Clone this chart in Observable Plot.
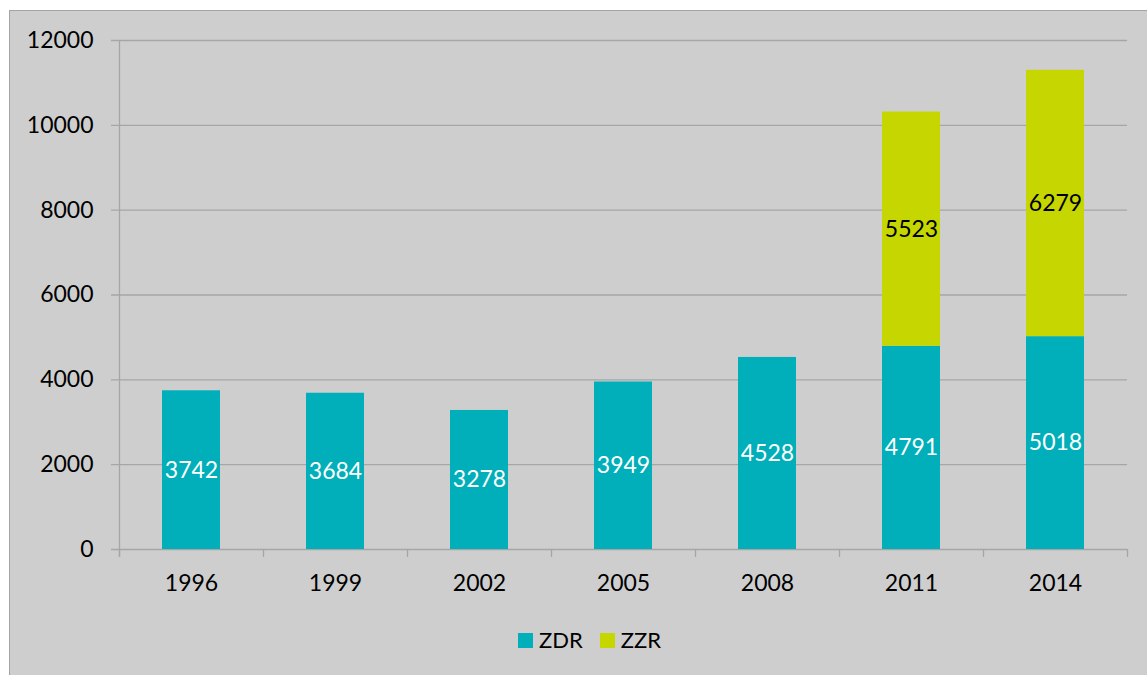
<!DOCTYPE html>
<html>
<head>
<meta charset="utf-8">
<script src="https://cdn.jsdelivr.net/npm/d3@7"></script>
<script src="https://cdn.jsdelivr.net/npm/@observablehq/plot@0.6"></script>
<style>
html,body{margin:0;padding:0;background:#ffffff;overflow:hidden;width:1147px;height:675px;font-family:Lato,"Open Sans",sans-serif}
#panel{position:absolute;left:9px;top:10px;width:1200px;height:720px;border:1px solid #a3a3a3;background:#cecece;box-sizing:border-box}
#chart{position:absolute;left:0;top:0}
#legend{position:absolute;left:518px;top:628px;display:flex;align-items:center;font-size:22px;color:#000;line-height:24px}
.item{display:flex;align-items:center}
.item + .item{margin-left:17px}
.sw{width:15px;height:15px;display:inline-block;margin-right:6px}
</style>
</head>
<body>
<div id="panel"></div>
<div id="chart"></div>
<div id="legend"></div>
<script>
const years = ["1996","1999","2002","2005","2008","2011","2014"];
const zdr = [3742,3684,3278,3949,4528,4791,5018];
const zzr = [0,0,0,0,0,5523,6279];
const series = ["ZDR","ZZR"];
const colors = ["#00afb9","#c5d600"];
const yTicks = [0,2000,4000,6000,8000,10000,12000];

const rows = years.flatMap((y,i)=>[
  {year:y, series:"ZDR", value:zdr[i]},
  {year:y, series:"ZZR", value:zzr[i]}
]);
const gray = "#a6a6a6";
const fs = 23;

const plot = Plot.plot({
  width:1147, height:610,
  marginTop:40, marginBottom:61, marginLeft:119, marginRight:20,
  style:{background:"transparent", fontFamily:"Lato, 'Open Sans', sans-serif", fontSize:fs+"px", color:"#000", overflow:"visible"},
  x:{domain:years, paddingInner:0.6, paddingOuter:0.3, label:null},
  y:{domain:[0,12000], label:null},
  color:{domain:series, range:colors},
  marks:[
    Plot.ruleY(yTicks, {stroke:gray, strokeWidth:1.3, insetLeft:-8}),
    Plot.ruleX([years[0]], {x:d=>d, dx:-72, y1:0, y2:12000, insetTop:8, stroke:gray, strokeWidth:1.3}),
    Plot.ruleX(years, {x:d=>d, dx:-72, y1:0, y2:0, insetTop:8, stroke:gray, strokeWidth:1.3}),
    Plot.ruleX([years[years.length-1]], {x:d=>d, dx:72, y1:0, y2:0, insetTop:8, stroke:gray, strokeWidth:1.3}),
    Plot.barY(rows, {x:"year", y:"value", fill:"series"}),
    Plot.text(rows, Plot.stackY({x:"year", y:"value", z:"series", text:d=>d.series==="ZDR" ? String(d.value) : null, fill:"white", fontSize:fs})),
    Plot.text(rows, Plot.stackY({x:"year", y:"value", z:"series", text:d=>d.series==="ZZR" && d.value ? String(d.value) : null, fill:"black", fontSize:fs})),
    Plot.axisY({ticks:yTicks, tickSize:0, tickPadding:26, tickFormat:d3.format("d"), fontSize:fs, fill:"#000"}),
    Plot.axisX({tickSize:0, tickPadding:25, fontSize:fs, fill:"#000"})
  ]
});
document.getElementById("chart").appendChild(plot);

const legend = document.getElementById("legend");
series.forEach((s,i)=>{
  const it = document.createElement("div");
  it.className = "item";
  const sw = document.createElement("span");
  sw.className = "sw";
  sw.style.background = colors[i];
  const tx = document.createElement("span");
  tx.textContent = s;
  it.appendChild(sw); it.appendChild(tx);
  legend.appendChild(it);
});
</script>
</body>
</html>
